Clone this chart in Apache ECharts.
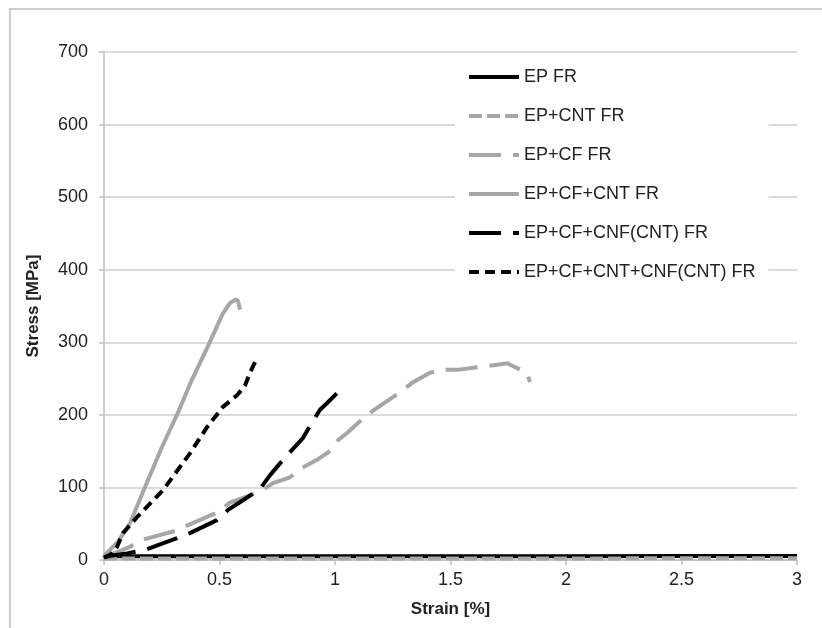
<!DOCTYPE html>
<html>
<head>
<meta charset="utf-8">
<script src="https://cdn.jsdelivr.net/npm/echarts@6/dist/echarts.min.js"></script>
<style>html,body{margin:0;padding:0;background:#fff;}#c{width:822px;height:628px;}</style>
</head>
<body>
<div id="c"></div>
<script>
const seriesNames = ['EP FR', 'EP+CNT FR', 'EP+CF FR', 'EP+CF+CNT FR', 'EP+CF+CNF(CNT) FR', 'EP+CF+CNT+CNF(CNT) FR'];

const epFR = [[0,5],[0.5,5],[1,5],[1.5,5],[2,5],[2.5,5.5],[3,5.5]];
const epCntFR = [[0,2],[0.5,2],[1,2],[1.5,2],[2,2],[2.5,2.5],[3,2.5]];
const epCfFR = [[0,3],[0.05,10],[0.104,17],[0.169,28],[0.307,40],[0.364,48],[0.494,66],[0.545,79],[0.675,94],[0.732,106],[0.805,114],[0.857,127],[0.922,138],[0.987,152],[1.013,165],[1.056,176],[1.139,200],[1.203,214],[1.281,231],[1.338,245],[1.411,258],[1.468,262],[1.528,262],[1.701,269],[1.749,271],[1.758,269],[1.831,258],[1.844,245]];
const epCfCntFR = [[0,2],[0.004,7],[0.06,25],[0.113,51],[0.19,110],[0.25,155],[0.32,203],[0.38,248],[0.446,292],[0.515,340],[0.545,354],[0.57,359],[0.58,357],[0.589,345]];
const epCfCnfFR = [[0,4],[0.05,7],[0.1,9],[0.177,14],[0.316,30],[0.372,37],[0.489,55],[0.537,69],[0.6,82],[0.675,98],[0.719,117],[0.775,138],[0.861,168],[0.9,189],[0.935,207],[0.965,216],[1.009,230]];
const epCfCntCnfFR = [[0,3],[0.03,8],[0.056,18],[0.082,37],[0.143,59],[0.255,96],[0.372,147],[0.446,183],[0.515,211],[0.576,227],[0.61,240],[0.632,258],[0.662,278]];

const seriesData = [epFR, epCntFR, epCfFR, epCfCntFR, epCfCnfFR, epCfCntCnfFR];
const seriesColors = ['#000000', '#a6a6a6', '#a6a6a6', '#a6a6a6', '#000000', '#000000'];
const seriesDash = ['solid', [13,5], [32,12], 'solid', [32,12], [10,6]];

const FONT = '"Liberation Sans", Arial, sans-serif';
const chart = echarts.init(document.getElementById('c'));
chart.setOption({
  animation: false,
  backgroundColor: '#fff',
  graphic: [{
    type: 'rect', z: -10, silent: true,
    shape: {x: 10, y: 9, width: 900, height: 900},
    style: {fill: 'none', stroke: '#bdbdbd', lineWidth: 1.5}
  }],
  grid: {left: 104, right: 25, top: 52, bottom: 68},
  legend: {
    data: seriesNames, orient: 'vertical', left: 455, top: 63,
    padding: [5, 13, 5, 12], itemWidth: 50, itemHeight: 14, itemGap: 21,
    backgroundColor: '#fff', selectedMode: false,
    itemStyle: {opacity: 0},
    lineStyle: {width: 4},
    textStyle: {fontFamily: FONT, fontSize: 18, color: '#222'}
  },
  xAxis: {
    type: 'value', min: 0, max: 3, interval: 0.5,
    name: 'Strain [%]', nameLocation: 'middle', nameGap: 41,
    nameTextStyle: {fontFamily: FONT, fontSize: 17, fontWeight: 'bold', color: '#222'},
    axisLine: {lineStyle: {color: '#bfbfbf', width: 1.5}},
    axisTick: {show: true, length: 5, lineStyle: {color: '#bfbfbf', width: 1.5}},
    axisLabel: {fontFamily: FONT, fontSize: 18, color: '#222', margin: 11},
    splitLine: {show: false}
  },
  yAxis: {
    type: 'value', min: 0, max: 700, interval: 100,
    name: 'Stress [MPa]', nameLocation: 'middle', nameGap: 62, nameRotate: 90,
    nameTextStyle: {fontFamily: FONT, fontSize: 17, fontWeight: 'bold', color: '#222'},
    axisLine: {show: true, lineStyle: {color: '#bfbfbf', width: 1.5}},
    axisTick: {show: true, length: 5, lineStyle: {color: '#bfbfbf', width: 1.5}},
    axisLabel: {fontFamily: FONT, fontSize: 18, color: '#222', margin: 16},
    splitLine: {show: true, lineStyle: {color: '#cfcfcf', width: 1.5}}
  },
  series: seriesNames.map((n, i) => ({
    name: n, type: 'line', data: seriesData[i], showSymbol: false, symbol: 'none',
    lineStyle: {color: seriesColors[i], width: 4, type: seriesDash[i], cap: 'butt'},
    itemStyle: {color: seriesColors[i]}
  }))
});
</script>
</body>
</html>
